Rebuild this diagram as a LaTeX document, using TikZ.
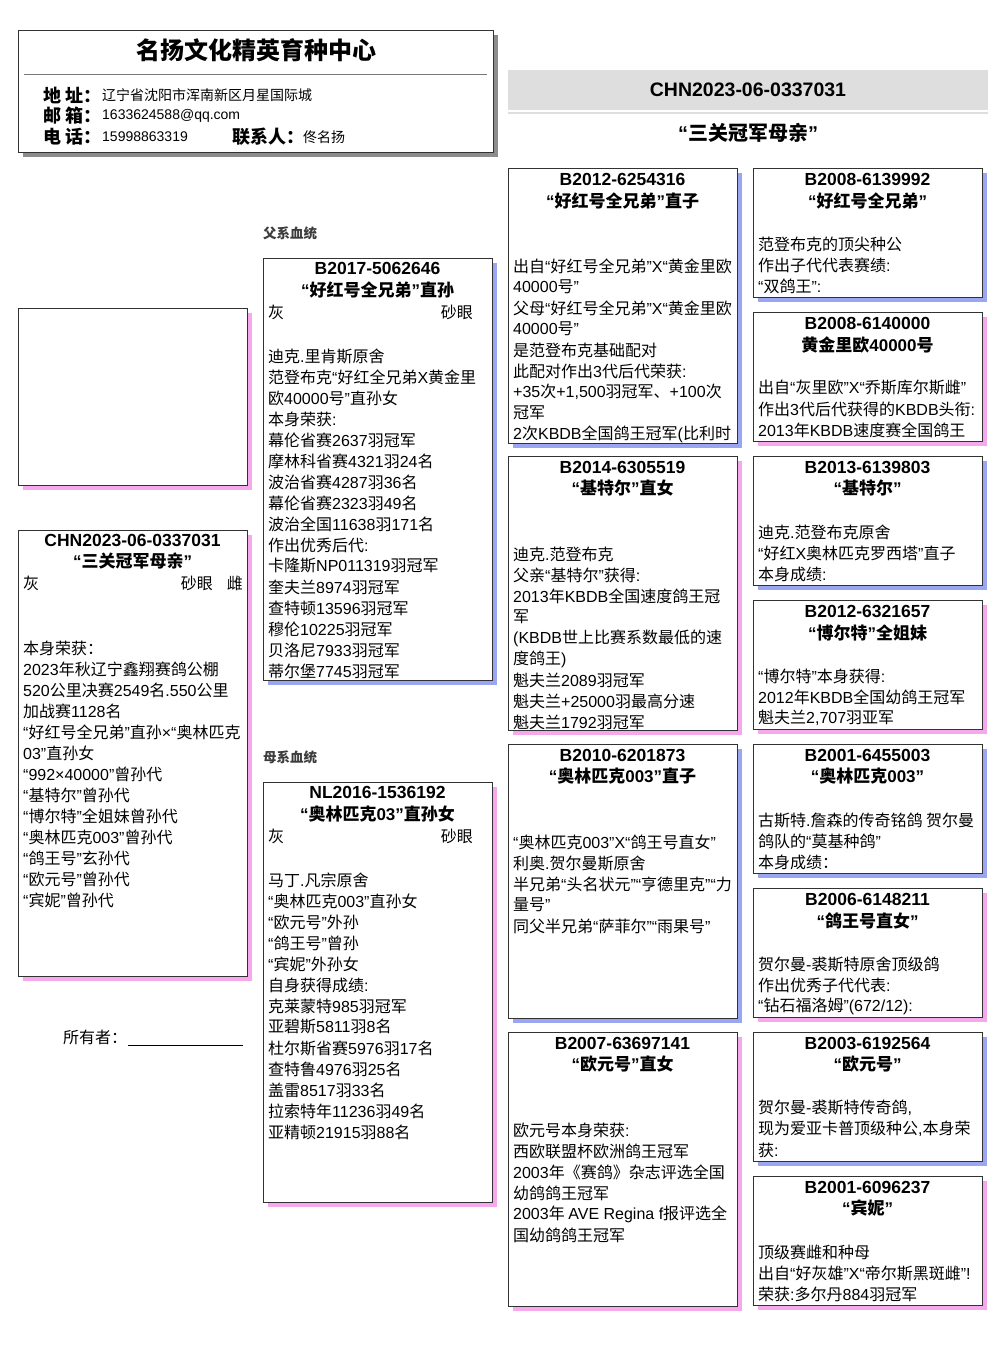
\documentclass[tikz,border=0pt]{standalone}
\usepackage{fontspec}
\setmainfont{Liberation Sans}
\newfontfamily\cjkfam{Noto Sans CJK SC}
\usetikzlibrary{calc}
% automatic switch between Latin (Liberation Sans) and CJK (Noto Sans CJK SC)
\newcount\cjkcnt
\cjkcnt="2E80
\loop \XeTeXcharclass\cjkcnt=10 \advance\cjkcnt by 1 \ifnum\cjkcnt<"A000 \repeat
\cjkcnt="FF00
\loop \XeTeXcharclass\cjkcnt=10 \advance\cjkcnt by 1 \ifnum\cjkcnt<"FFF0 \repeat
\cjkcnt="2000
\loop \XeTeXcharclass\cjkcnt=0 \advance\cjkcnt by 1 \ifnum\cjkcnt<"2070 \repeat
\XeTeXcharclass"00D7=0
\XeTeXcharclass"00B7=0
\XeTeXinterchartoks 0 10 = {\cjkfam}
\XeTeXinterchartoks 4095 10 = {\cjkfam}
\XeTeXinterchartoks 10 0 = {\rmfamily}
\XeTeXinterchartoks 4095 0 = {\rmfamily}
\XeTeXinterchartokenstate=1

\definecolor{bsh}{RGB}{155,166,242}
\definecolor{psh}{RGB}{245,168,236}
\definecolor{hsh}{RGB}{140,140,140}
\definecolor{boxline}{RGB}{50,50,50}
\definecolor{bandc}{RGB}{222,222,222}
\definecolor{labc}{RGB}{60,60,60}

\tikzset{
  pedframe/.style={draw=boxline, fill=white, line width=1pt, inner sep=0pt, outer sep=0pt},
  hdrframe/.style={draw=boxline, fill=white, line width=1pt, inner sep=0pt, outer sep=0pt},
  bandbox/.style={fill=bandc, draw=none, inner sep=0pt, outer sep=0pt},
  bandline/.style={draw=bandc, line width=2.5pt},
  hdrrule/.style={draw={rgb,255:red,120;green,120;blue,120}, line width=1pt},
  hdrtitle/.style={font=\bfseries\fontsize{24}{28}\selectfont, inner sep=0pt},
  hdrlab/.style={font=\bfseries\fontsize{18}{20}\selectfont, inner sep=0pt, anchor=west},
  hdrval/.style={font=\fontsize{14}{16}\selectfont, inner sep=0pt, anchor=west},
  bigid/.style={font=\bfseries\fontsize{19.5}{22}\selectfont, inner sep=0pt},
  bigname/.style={font=\bfseries\fontsize{20}{22}\selectfont, inner sep=0pt},
  idtxt/.style={font=\bfseries\fontsize{17.5}{20}\selectfont, inner sep=0pt},
  nmtxt/.style={font=\bfseries\fontsize{17}{20}\selectfont, inner sep=0pt},
  bodytxt/.style={font=\fontsize{16}{20}\selectfont, inner sep=0pt, anchor=west},
  seclab/.style={font=\bfseries\fontsize{13.5}{16}\selectfont, text=labc, inner sep=0pt, anchor=west},
  ownline/.style={draw=black, line width=0.8pt},
}

\newcommand\pedbox[6]{%
  \fill[#6] ({#2+5},{#3+5}) rectangle ({#2+#4+5},{#3+#5+5});
  \node[pedframe, minimum width=#4pt, minimum height=#5pt, anchor=north west] (#1) at (#2,#3) {};}
\newcommand\pedtitle[5]{%
  \node[idtxt] (#1-id) at (#2,#3) {#4};
  \node[nmtxt] (#1-nm) at (#2,{#3+21.5}) {#5};}
\newcommand\bodylines[4]{%
  \foreach \t [count=\i] in {#4} {\node[bodytxt] (#1-\i) at (#2,{#3+21*(\i-1)}) {\t};}}

\begin{document}
\begin{tikzpicture}[x=1pt,y=-1pt]
\useasboundingbox (0,0) rectangle (1006,1366);
\fill[white] (0,0) rectangle (1006,1366);

% ---------- header (left)
\fill[hsh] (23,35) rectangle (498,157);
\node[hdrframe, minimum width=475pt, minimum height=122pt, anchor=north west] (hdr) at (18,30) {};
\node[hdrtitle] (hdrt) at (256,50) {名扬文化精英育种中心};
\draw[hdrrule] (24,74) -- (487,74);
\node[hdrlab] (addrl) at (43,95) {地\hspace{4pt}址：};
\node[hdrval] (addrv) at (102,95) {辽宁省沈阳市浑南新区月星国际城};
\node[hdrlab] (maill) at (43,116) {邮\hspace{4pt}箱：};
\node[hdrval] (mailv) at (102,116) {1633624588@qq.com};
\node[hdrlab] (tell) at (43,137) {电\hspace{4pt}话：};
\node[hdrval] (telv) at (102,137) {15998863319};
\node[hdrlab] (ctl) at (232,137) {联系人：};
\node[hdrval] (ctv) at (303,137) {佟名扬};

% ---------- header (right)
\node[bandbox, minimum width=480pt, minimum height=40pt, anchor=north west] (band) at (508,70) {};
\node[bigid] (regno) at (748,90) {CHN2023-06-0337031};
\draw[bandline] (508,113) -- (988,113);
\node[bigname] (nick) at (748,133) {“三关冠军母亲”};

% ---------- photo + main bird
\pedbox{photo}{18}{308}{229}{177}{psh}
\pedbox{self}{18}{530}{229}{446}{psh}
\begin{scope}
\clip (self.south west) rectangle (self.north east);
\node[idtxt] (self-id) at (132.5,540) {CHN2023-06-0337031};
\node[nmtxt] (self-nm) at (132.5,561) {“三关冠军母亲”};
\node[bodytxt] (self-c) at (23,583) {灰};
\node[bodytxt, anchor=east] (self-e) at (213,583) {砂眼};
\node[bodytxt, anchor=east] (self-s) at (243,583) {雌};
\bodylines{self}{23}{648}{本身荣获：,%
2023年秋辽宁鑫翔赛鸽公棚,%
520公里决赛2549名.550公里,%
加战赛1128名,%
“好红号全兄弟”直孙×“奥林匹克,%
03”直孙女,%
“992×40000”曾孙代,%
“基特尔”曾孙代,%
“博尔特”全姐妹曾孙代,%
“奥林匹克003”曾孙代,%
“鸽王号”玄孙代,%
“欧元号”曾孙代,%
“宾妮”曾孙代}
\end{scope}
\node[bodytxt] (owner) at (63,1037) {所有者：};
\coordinate (ul1) at (128,1045);
\coordinate (ul2) at (243,1045);
\draw[ownline] (ul1) -- (ul2);

% ---------- generation 2
\node[seclab] (sirelab) at (263,233) {父系血统};
\pedbox{sire}{263}{258}{229}{422}{bsh}
\begin{scope}
\clip (sire.south west) rectangle (sire.north east);
\node[idtxt] (sire-id) at (377.5,268) {B2017-5062646};
\node[nmtxt] (sire-nm) at (377.5,290) {“好红号全兄弟”直孙};
\node[bodytxt] (sire-c) at (268,312) {灰};
\node[bodytxt, anchor=east] (sire-e) at (473,312) {砂眼};
\bodylines{sire}{268}{356}{迪克.里肯斯原舍,%
范登布克“好红全兄弟X黄金里,%
欧40000号”直孙女,%
本身荣获:,%
幕伦省赛2637羽冠军,%
摩林科省赛4321羽24名,%
波治省赛4287羽36名,%
幕伦省赛2323羽49名,%
波治全国11638羽171名,%
作出优秀后代:,%
卡隆斯NP011319羽冠军,%
奎夫兰8974羽冠军,%
查特顿13596羽冠军,%
穆伦10225羽冠军,%
贝洛尼7933羽冠军,%
蒂尔堡7745羽冠军}
\end{scope}

\node[seclab] (damlab) at (263,757) {母系血统};
\pedbox{dam}{263}{782}{229}{420}{psh}
\begin{scope}
\clip (dam.south west) rectangle (dam.north east);
\node[idtxt] (dam-id) at (377.5,792) {NL2016-1536192};
\node[nmtxt] (dam-nm) at (377.5,814) {“奥林匹克03”直孙女};
\node[bodytxt] (dam-c) at (268,836) {灰};
\node[bodytxt, anchor=east] (dam-e) at (473,836) {砂眼};
\bodylines{dam}{268}{880}{马丁.凡宗原舍,%
“奥林匹克003”直孙女,%
“欧元号”外孙,%
“鸽王号”曾孙,%
“宾妮”外孙女,%
自身获得成绩:,%
克莱蒙特985羽冠军,%
亚碧斯5811羽8名,%
杜尔斯省赛5976羽17名,%
查特鲁4976羽25名,%
盖雷8517羽33名,%
拉索特年11236羽49名,%
亚精顿21915羽88名}
\end{scope}

% ---------- generation 3
\pedbox{ga}{508}{168}{229}{275}{bsh}
\begin{scope}
\clip (ga.south west) rectangle (ga.north east);
\pedtitle{ga}{622.5}{179}{B2012-6254316}{“好红号全兄弟”直子}
\bodylines{ga}{513}{266}{出自“好红号全兄弟”X“黄金里欧,%
40000号”,%
父母“好红号全兄弟”X“黄金里欧,%
40000号”,%
是范登布克基础配对,%
此配对作出3代后代荣获:,%
{+35次+1,500羽冠军、+100次},%
冠军,%
{2次KBDB全国鸽王冠军(比利时}}
\end{scope}

\pedbox{gb}{508}{456}{229}{274}{psh}
\begin{scope}
\clip (gb.south west) rectangle (gb.north east);
\pedtitle{gb}{622.5}{467}{B2014-6305519}{“基特尔”直女}
\bodylines{gb}{513}{554}{迪克.范登布克,%
父亲“基特尔”获得:,%
2013年KBDB全国速度鸽王冠,%
军,%
{\relax(KBDB世上比赛系数最低的速},%
{度鸽王)},%
魁夫兰2089羽冠军,%
魁夫兰+25000羽最高分速,%
魁夫兰1792羽冠军}
\end{scope}

\pedbox{gc}{508}{744}{229}{274}{bsh}
\begin{scope}
\clip (gc.south west) rectangle (gc.north east);
\pedtitle{gc}{622.5}{755}{B2010-6201873}{“奥林匹克003”直子}
\bodylines{gc}{513}{842}{“奥林匹克003”X“鸽王号直女”,%
利奥.贺尔曼斯原舍,%
半兄弟“头名状元”“亨德里克”“力,%
量号”,%
同父半兄弟“萨菲尔”“雨果号”}
\end{scope}

\pedbox{gd}{508}{1032}{229}{274}{psh}
\begin{scope}
\clip (gd.south west) rectangle (gd.north east);
\pedtitle{gd}{622.5}{1043}{B2007-63697141}{“欧元号”直女}
\bodylines{gd}{513}{1130}{欧元号本身荣获:,%
西欧联盟杯欧洲鸽王冠军,%
2003年《赛鸽》杂志评选全国,%
幼鸽鸽王冠军,%
2003年 AVE Regina f报评选全,%
国幼鸽鸽王冠军}
\end{scope}

% ---------- generation 4
\pedbox{ha}{753}{168}{229}{129}{bsh}
\begin{scope}
\clip (ha.south west) rectangle (ha.north east);
\pedtitle{ha}{867.5}{179}{B2008-6139992}{“好红号全兄弟”}
\bodylines{ha}{758}{244}{范登布克的顶尖种公,%
作出子代代表赛绩:,%
“双鸽王”:}
\end{scope}

\pedbox{hb}{753}{312}{229}{129}{psh}
\begin{scope}
\clip (hb.south west) rectangle (hb.north east);
\pedtitle{hb}{867.5}{323}{B2008-6140000}{黄金里欧40000号}
\bodylines{hb}{758}{388}{出自“灰里欧”X“乔斯库尔斯雌”,%
作出3代后代获得的KBDB头衔:,%
2013年KBDB速度赛全国鸽王}
\end{scope}

\pedbox{hc}{753}{456}{229}{129}{bsh}
\begin{scope}
\clip (hc.south west) rectangle (hc.north east);
\pedtitle{hc}{867.5}{467}{B2013-6139803}{“基特尔”}
\bodylines{hc}{758}{532}{迪克.范登布克原舍,%
“好红X奥林匹克罗西塔”直子,%
本身成绩:}
\end{scope}

\pedbox{hd}{753}{600}{229}{129}{psh}
\begin{scope}
\clip (hd.south west) rectangle (hd.north east);
\pedtitle{hd}{867.5}{611}{B2012-6321657}{“博尔特”全姐妹}
\bodylines{hd}{758}{676}{“博尔特”本身获得:,%
2012年KBDB全国幼鸽王冠军,%
{魁夫兰2,707羽亚军}}
\end{scope}

\pedbox{he}{753}{744}{229}{129}{bsh}
\begin{scope}
\clip (he.south west) rectangle (he.north east);
\pedtitle{he}{867.5}{755}{B2001-6455003}{“奥林匹克003”}
\bodylines{he}{758}{820}{古斯特.詹森的传奇铭鸽 贺尔曼,%
鸽队的“莫基种鸽”,%
本身成绩：}
\end{scope}

\pedbox{hf}{753}{888}{229}{129}{psh}
\begin{scope}
\clip (hf.south west) rectangle (hf.north east);
\pedtitle{hf}{867.5}{899}{B2006-6148211}{“鸽王号直女”}
\bodylines{hf}{758}{964}{贺尔曼-裘斯特原舍顶级鸽,%
作出优秀子代代表:,%
“钻石福洛姆”(672/12):}
\end{scope}

\pedbox{hg}{753}{1032}{229}{129}{bsh}
\begin{scope}
\clip (hg.south west) rectangle (hg.north east);
\pedtitle{hg}{867.5}{1043}{B2003-6192564}{“欧元号”}
\bodylines{hg}{758}{1108}{{贺尔曼-裘斯特传奇鸽,},%
{现为爱亚卡普顶级种公,本身荣},%
获:}
\end{scope}

\pedbox{hh}{753}{1176}{229}{129}{psh}
\begin{scope}
\clip (hh.south west) rectangle (hh.north east);
\pedtitle{hh}{867.5}{1187}{B2001-6096237}{“宾妮”}
\bodylines{hh}{758}{1252}{顶级赛雌和种母,%
出自“好灰雄”X“帝尔斯黑斑雌”!,%
荣获:多尔丹884羽冠军}
\end{scope}
\end{tikzpicture}
\end{document}
